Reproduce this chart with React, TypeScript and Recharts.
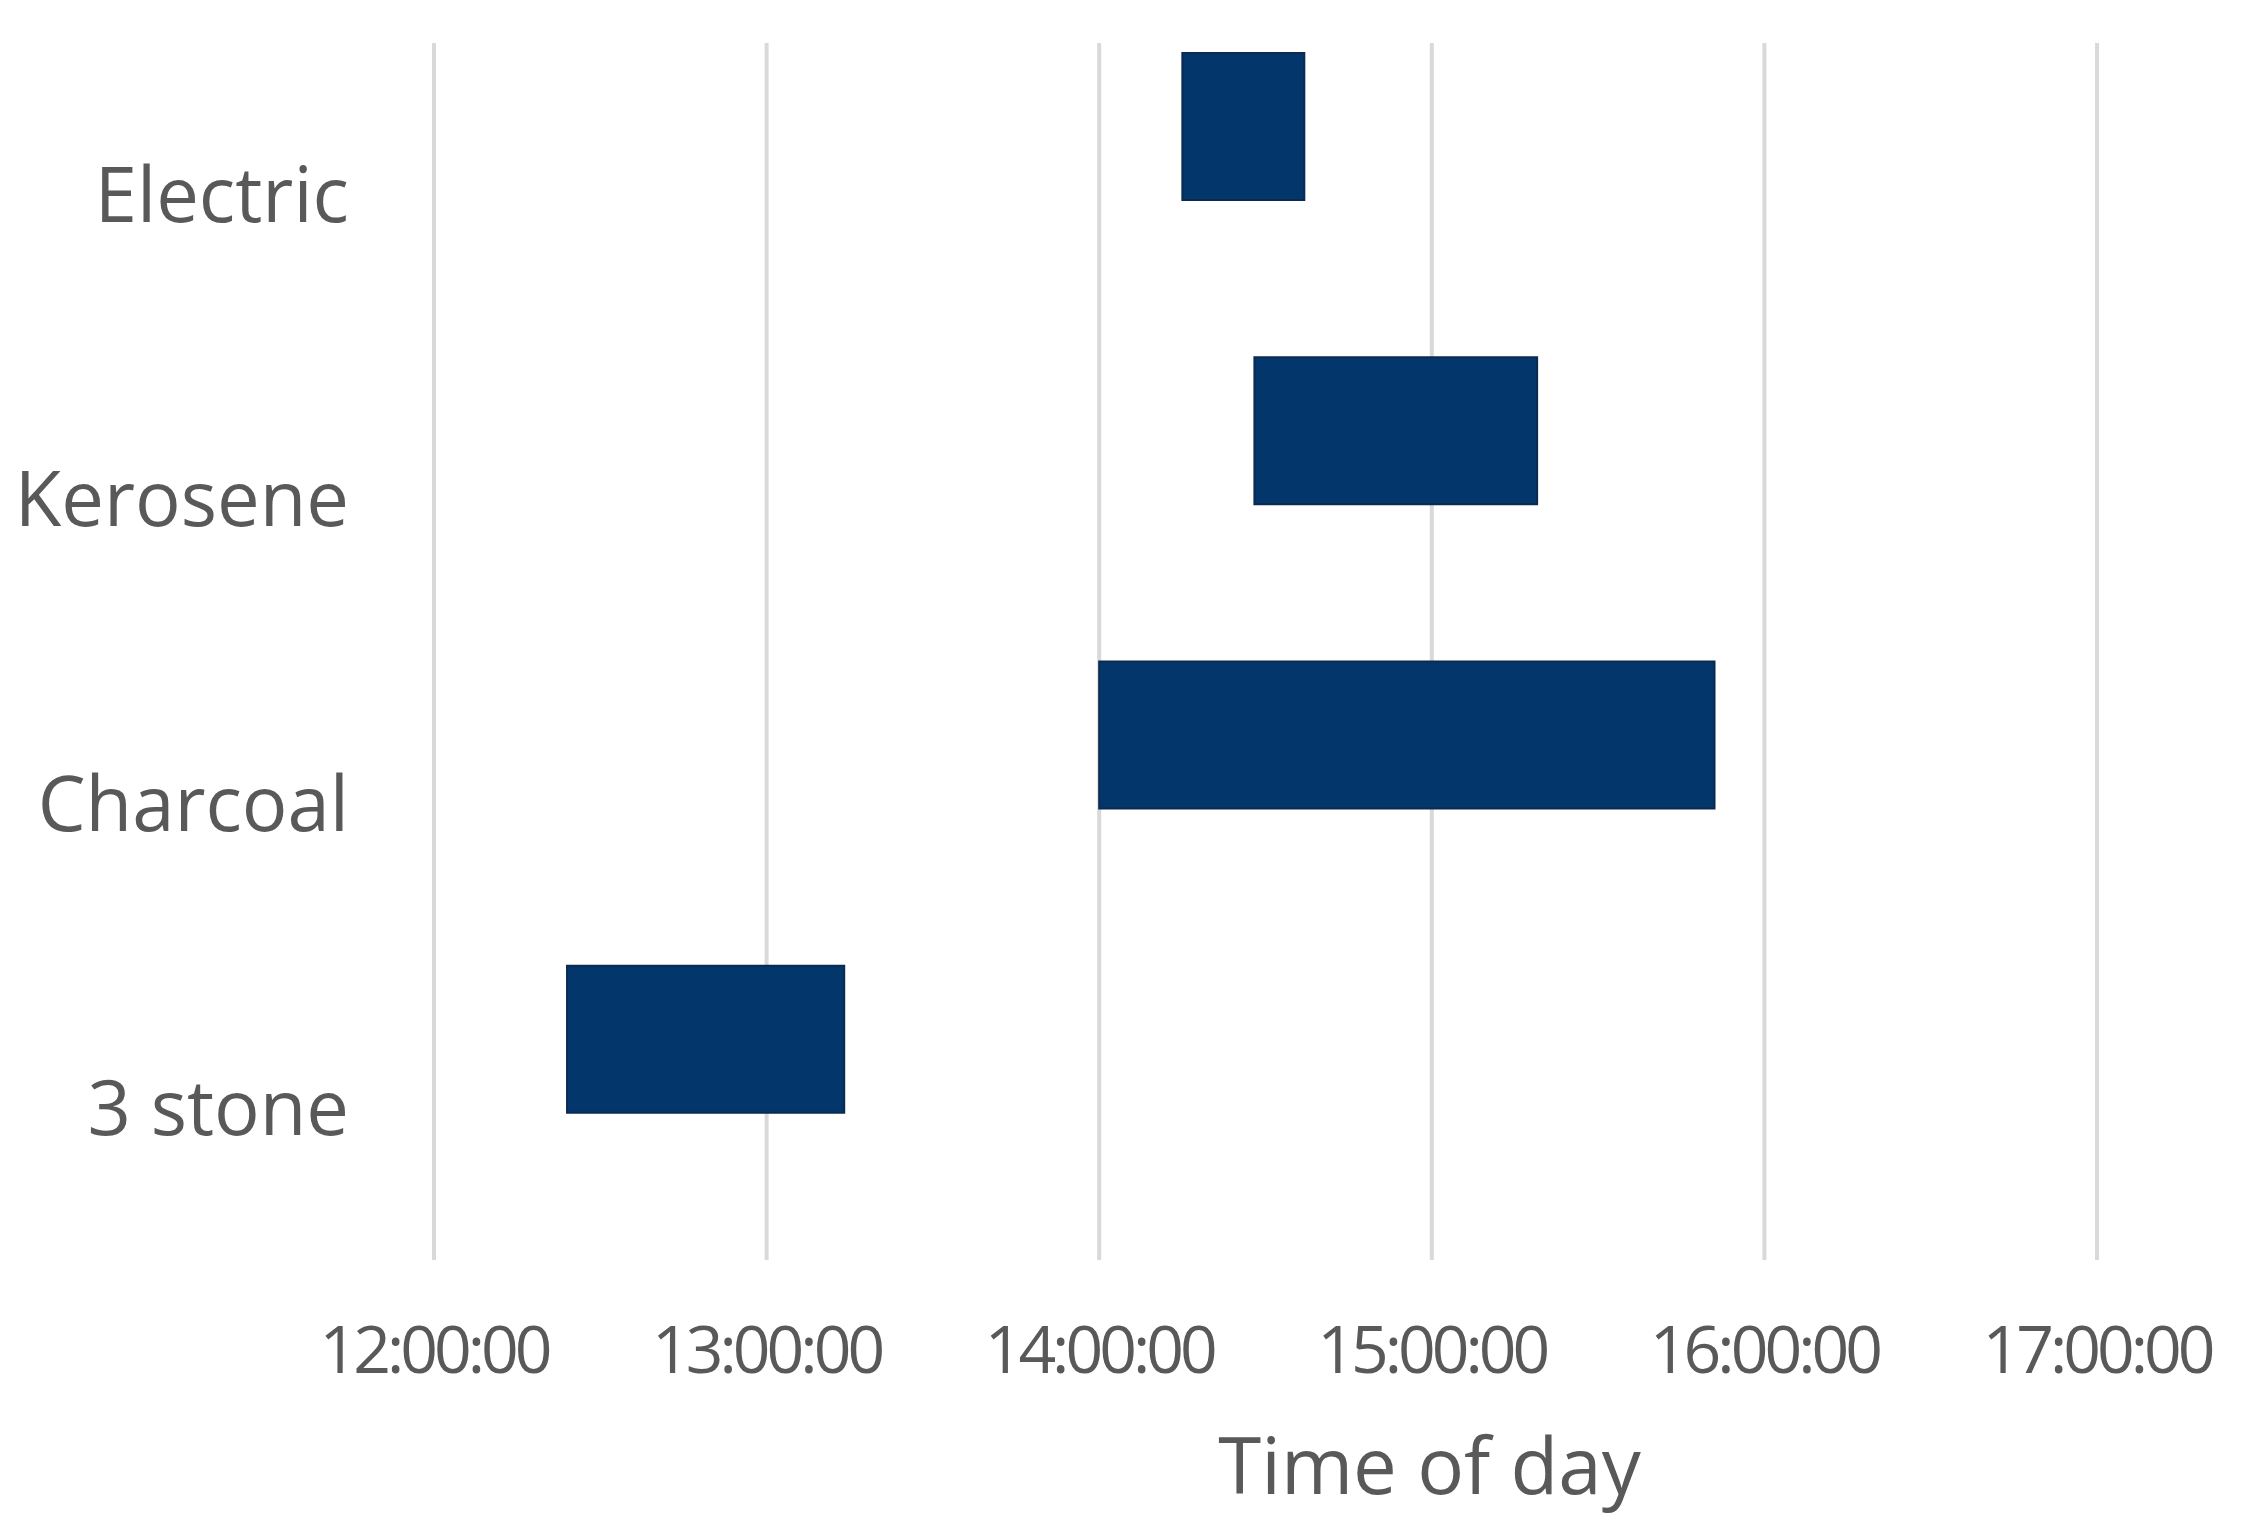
import { BarChart, Bar, XAxis, YAxis, CartesianGrid, Label } from "recharts";

const stoves = ["Electric", "Kerosene", "Charcoal", "3 stone"];
const startTimes = ["14:15", "14:28", "14:00", "12:24"];
const endTimes = ["14:37", "15:19", "15:51", "13:14"];
const hourTicks = [12, 13, 14, 15, 16, 17];

const toHours = (t: string) => {
  const [h, m] = t.split(":").map(Number);
  return h + m / 60;
};

const data = stoves.map((name, i) => ({
  name,
  range: [toHours(startTimes[i]), toHours(endTimes[i])],
}));

const textGrey = "#595959";

export default function App() {
  return (
    <div style={{ position: "absolute", left: 0, top: 0, width: 2245, height: 1517, background: "#fff" }}>
      <BarChart
        width={2245}
        height={1517}
        data={data}
        layout="vertical"
        barGap={-10}
        margin={{ top: 43, right: 148, bottom: 0, left: 0 }}
      >
        <CartesianGrid horizontal={false} stroke="#d9d9d9" strokeWidth={4} />
        <XAxis
          type="number"
          domain={[12, 17]}
          ticks={hourTicks}
          tickFormatter={(h: number) => `${h}:00:00`}
          axisLine={false}
          tickLine={false}
          tickSize={0}
          tickMargin={66}
          height={257}
          interval={0}
          tick={{ fill: textGrey, fontSize: 66, letterSpacing: -4, fontFamily: "'Open Sans', sans-serif" }}
        >
          <Label
            value="Time of day"
            position="insideBottom"
            offset={23}
            dx={164}
            fill={textGrey}
            fontSize={78}
            fontFamily="'Open Sans', sans-serif"
          />
        </XAxis>
        <YAxis
          type="category"
          dataKey="name"
          width={434}
          axisLine={false}
          tickLine={false}
          tickSize={0}
          tickMargin={85}
          tick={{ fill: textGrey, fontSize: 76, fontFamily: "'Open Sans', sans-serif" }}
        />
        <Bar
          dataKey="range"
          fill="#03376b"
          stroke="#0b2a52"
          strokeWidth={2}
          barSize={147}
          isAnimationActive={false}
        />
        <Bar dataKey="spacer" fill="none" barSize={147} legendType="none" isAnimationActive={false} />
      </BarChart>
    </div>
  );
}
